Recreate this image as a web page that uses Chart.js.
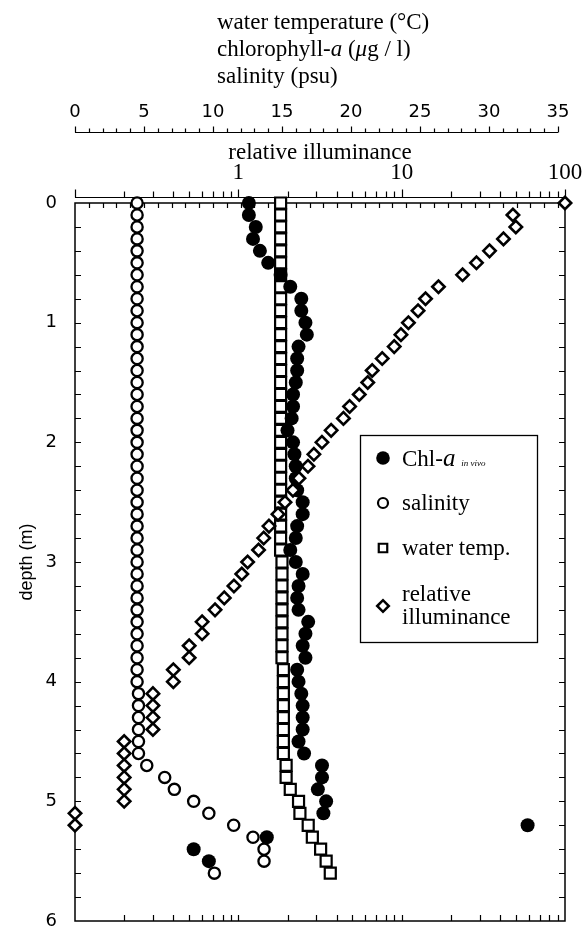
<!DOCTYPE html>
<html><head><meta charset="utf-8">
<script src="https://cdn.jsdelivr.net/npm/chart.js@4.4.0/dist/chart.umd.min.js"></script>
<style>html,body{margin:0;padding:0;background:#fff;overflow:hidden}#wrap{position:relative;width:582px;height:931px}</style>
</head><body><div id="wrap"><canvas id="c" width="582" height="931"></canvas></div>
<script>
// ---------- DATA ----------
const chlDepths = [0.0,0.1,0.2,0.3,0.4,0.5,0.6,0.7,0.8,0.9,1.0,1.1,1.2,1.3,1.4,1.5,1.6,1.7,1.8,1.9,2.0,2.1,2.2,2.3,2.4,2.5,2.6,2.7,2.8,2.9,3.0,3.1,3.2,3.3,3.4,3.5,3.6,3.7,3.8,3.9,4.0,4.1,4.2,4.3,4.4,4.5,4.6,4.7,4.8,4.9,5.0,5.1,5.2,5.3,5.4,5.5];
const chlValues = [12.6,12.6,13.1,12.9,13.4,14.0,14.9,15.6,16.4,16.4,16.7,16.8,16.2,16.1,16.1,16.0,15.8,15.8,15.7,15.4,15.8,15.9,16.0,16.0,16.1,16.5,16.5,16.1,16.0,15.6,16.0,16.5,16.2,16.1,16.2,16.9,16.7,16.5,16.7,16.1,16.2,16.4,16.5,16.5,16.5,16.2,16.6,17.9,17.9,17.6,18.2,18.0,32.8,13.9,8.6,9.7];

const salDepths = [0.0,0.1,0.2,0.3,0.4,0.5,0.6,0.7,0.8,0.9,1.0,1.1,1.2,1.3,1.4,1.5,1.6,1.7,1.8,1.9,2.0,2.1,2.2,2.3,2.4,2.5,2.6,2.7,2.8,2.9,3.0,3.1,3.2,3.3,3.4,3.5,3.6,3.7,3.8,3.9,4.0,4.1,4.2,4.3,4.4,4.5,4.6,4.7,4.8,4.9,5.0,5.1,5.2,5.3,5.4,5.5,5.6];
const salValues = [4.5,4.5,4.5,4.5,4.5,4.5,4.5,4.5,4.5,4.5,4.5,4.5,4.5,4.5,4.5,4.5,4.5,4.5,4.5,4.5,4.5,4.5,4.5,4.5,4.5,4.5,4.5,4.5,4.5,4.5,4.5,4.5,4.5,4.5,4.5,4.5,4.5,4.5,4.5,4.5,4.5,4.6,4.6,4.6,4.6,4.6,4.6,5.2,6.5,7.2,8.6,9.7,11.5,12.9,13.7,13.7,10.1];

const tempDepths = [0.0,0.1,0.2,0.3,0.4,0.5,0.6,0.7,0.8,0.9,1.0,1.1,1.2,1.3,1.4,1.5,1.6,1.7,1.8,1.9,2.0,2.1,2.2,2.3,2.4,2.5,2.6,2.7,2.8,2.9,3.0,3.1,3.2,3.3,3.4,3.5,3.6,3.7,3.8,3.9,4.0,4.1,4.2,4.3,4.4,4.5,4.6,4.7,4.8,4.9,5.0,5.1,5.2,5.3,5.4,5.5,5.6];
const tempValues = [14.9,14.9,14.9,14.9,14.9,14.9,14.9,14.9,14.9,14.9,14.9,14.9,14.9,14.9,14.9,14.9,14.9,14.9,14.9,14.9,14.9,14.9,14.9,14.9,14.9,14.9,14.9,14.9,14.9,14.9,15.0,15.0,15.0,15.0,15.0,15.0,15.0,15.0,15.0,15.1,15.1,15.1,15.1,15.1,15.1,15.1,15.1,15.3,15.3,15.6,16.2,16.3,16.9,17.2,17.8,18.2,18.5];

const illumDepths = [0.0,0.1,0.2,0.3,0.4,0.5,0.6,0.7,0.8,0.9,1.0,1.1,1.2,1.3,1.4,1.5,1.6,1.7,1.8,1.9,2.0,2.1,2.2,2.3,2.4,2.5,2.6,2.7,2.8,2.9,3.0,3.1,3.2,3.3,3.4,3.5,3.6,3.7,3.8,3.9,4.0,4.1,4.2,4.3,4.4,4.5,4.6,4.7,4.8,4.9,5.0,5.1,5.2];
const illumValues = [100,48,50,42,34.5,28.7,23.6,16.8,14.0,12.6,11.0,9.9,9.0,7.6,6.6,6.2,5.5,4.8,4.4,3.7,3.25,2.9,2.67,2.35,2.16,1.93,1.75,1.54,1.43,1.33,1.14,1.05,0.94,0.82,0.72,0.6,0.6,0.5,0.5,0.4,0.4,0.3,0.3,0.3,0.3,0.2,0.2,0.2,0.2,0.2,0.2,0.1,0.1];

const depthTicks = [0,1,2,3,4,5,6];
const linTickLabels = [0,5,10,15,20,25,30,35];
const logTickLabels = [1,10,100];

// ---------- STYLE ----------
const SERIF = '"Liberation Serif", "Times New Roman", serif';
const SANS = '"Liberation Sans", Arial, sans-serif';
const DIGITS = '"DejaVu Sans", "Liberation Sans", sans-serif';

function pts(xs, ys){ return ys.map((d,i)=>({x:xs[i], y:d})); }

const decor = {
  id:'decor',
  beforeDatasetsDraw(chart){
    const ctx = chart.ctx, a = chart.chartArea;
    const y = chart.scales.y, lin = chart.scales.xlin, lg = chart.scales.xlog;
    ctx.save();
    ctx.strokeStyle = '#000';
    ctx.lineWidth = 1.5;
    ctx.strokeRect(a.left, a.top, a.right - a.left, a.bottom - a.top);
    ctx.lineWidth = 1.2;
    ctx.beginPath();
    for (let k = 1; k < 30; k++) {
      const py = Math.round(y.getPixelForValue(k*0.2)) + 0.5;
      ctx.moveTo(a.left, py); ctx.lineTo(a.left + 6, py);
      ctx.moveTo(a.right, py); ctx.lineTo(a.right - 6, py);
    }
    for (let v = 1; v <= 35; v++) {
      const px = Math.round(lin.getPixelForValue(v)) + 0.5;
      ctx.moveTo(px, a.top); ctx.lineTo(px, a.top + 5);
    }
    const logVals = [];
    [0.1,1,10].forEach(dec => { for (let m = 1; m <= 9; m++) logVals.push(m*dec); });
    logVals.push(100);
    logVals.forEach(v => {
      const px = Math.round(lg.getPixelForValue(v)) + 0.5;
      if (px <= a.left + 1 || px >= a.right - 1) return;
      ctx.moveTo(px, a.bottom); ctx.lineTo(px, a.bottom - 6);
    });
    ctx.stroke();

    const ly = a.top - 5.5;
    ctx.beginPath();
    ctx.lineWidth = 1.2;
    ctx.moveTo(lg.getPixelForValue(0.1), ly); ctx.lineTo(lg.getPixelForValue(100), ly);
    logVals.forEach(v => {
      const px = Math.round(lg.getPixelForValue(v)) + 0.5;
      const major = Math.abs(Math.log10(v) - Math.round(Math.log10(v))) < 1e-9;
      ctx.moveTo(px, ly); ctx.lineTo(px, ly - (major ? 8 : 6));
    });
    ctx.stroke();

    const ry = lin.bottom - 5.5;
    ctx.beginPath();
    ctx.moveTo(lin.getPixelForValue(0), ry); ctx.lineTo(lin.getPixelForValue(35), ry);
    for (let v = 0; v <= 35; v++) {
      const px = Math.round(lin.getPixelForValue(v)) + 0.5;
      ctx.moveTo(px, ry); ctx.lineTo(px, ry - (v % 5 === 0 ? 6 : 4));
    }
    ctx.stroke();
    ctx.restore();
  },
  afterDraw(chart){
    const ctx = chart.ctx;
    ctx.save();
    ctx.fillStyle = '#000';
    ctx.textBaseline = 'alphabetic';
    ctx.textAlign = 'left';
    const N = '23px ' + SERIF, I = 'italic 23px ' + SERIF;
    function rich(x, yb, parts){
      let cx = x;
      parts.forEach(([t,f]) => { ctx.font = f; ctx.fillText(t, cx, yb); cx += ctx.measureText(t).width; });
    }
    rich(217, 29, [['water temperature (\u00B0C)', N]]);
    rich(217, 56, [['chlorophyll-', N], ['a', I], [' (', N], ['\u03BC', I], ['g / l)', N]]);
    rich(217, 83, [['salinity (psu)', N]]);

    ctx.strokeStyle = '#000';
    ctx.lineWidth = 1.3;
    ctx.strokeRect(360.5, 435.5, 177, 207);
    const ds = chart.data.datasets;
    const mk = (d, x, yy, r, bw) => {
      ctx.fillStyle = d.backgroundColor; ctx.strokeStyle = d.borderColor; ctx.lineWidth = bw;
      Chart.helpers.drawPoint(ctx, {pointStyle: d.pointStyle, radius: r, borderWidth: bw, rotation: 0}, x, yy);
    };
    mk(ds[0], 383, 458, 6.8, 0);
    mk(ds[1], 383, 503, 5, 2.2);
    mk(ds[2], 383, 548, 6, 2.2);
    mk(ds[3], 383, 606, 5.8, 2.5);
    ctx.fillStyle = '#000';
    rich(402, 466, [['Chl-', N], ['a', 'italic 25px ' + SERIF], [' ', N], ['in vivo', 'italic 9px ' + SERIF]]);
    rich(402, 510, [['salinity', N]]);
    rich(402, 555, [['water temp.', N]]);
    rich(402, 601, [['relative', N]]);
    rich(402, 624, [['illuminance', N]]);
    ctx.restore();
  }
};

new Chart(document.getElementById('c'), {
  type: 'scatter',
  data: {
    datasets: [
      { label: 'Chl-a in vivo', data: pts(chlValues, chlDepths), xAxisID: 'xlin', yAxisID: 'y',
        pointStyle: 'circle', pointRadius: 7, backgroundColor: '#000', borderColor: '#000', borderWidth: 0, order: 2, clip: false },
      { label: 'salinity', data: pts(salValues, salDepths), xAxisID: 'xlin', yAxisID: 'y',
        pointStyle: 'circle', pointRadius: 5.6, backgroundColor: '#fff', borderColor: '#000', borderWidth: 2.3, order: 0, clip: false },
      { label: 'water temp.', data: pts(tempValues, tempDepths), xAxisID: 'xlin', yAxisID: 'y',
        pointStyle: 'rect', pointRadius: 7.8, backgroundColor: '#fff', borderColor: '#000', borderWidth: 2.2, order: 3, clip: false },
      { label: 'relative illuminance', data: pts(illumValues, illumDepths), xAxisID: 'xlog', yAxisID: 'y',
        pointStyle: 'rectRot', pointRadius: 6.2, backgroundColor: '#fff', borderColor: '#000', borderWidth: 2.6, order: 1, clip: false }
    ]
  },
  options: {
    responsive: false, animation: false, devicePixelRatio: 1,
    layout: { padding: { top: 99, left: 0, right: 17, bottom: 8 } },
    plugins: { legend: { display: false }, tooltip: { enabled: false } },
    elements: { point: { hoverRadius: 0 } },
    scales: {
      y: {
        type: 'linear', position: 'left', reverse: true, min: 0, max: 6,
        afterBuildTicks: s => { s.ticks = depthTicks.map(v => ({value: v})); },
        ticks: { color: '#000', padding: 18, font: { family: DIGITS, size: 18 }, callback: v => String(v) },
        grid: { display: false, drawTicks: false }, border: { display: false },
        title: { display: true, text: 'depth (m)', color: '#000', font: { family: SANS, size: 18 }, padding: { top: 16, bottom: 0 } },
        afterFit: s => { s.width = 75; s.paddingTop = 0; s.paddingBottom = 0; }
      },
      xlog: {
        type: 'logarithmic', position: 'top', min: 0.1, max: 100, weight: 0,
        afterBuildTicks: s => { s.ticks = logTickLabels.map(v => ({value: v, major: true})); },
        ticks: { color: '#000', autoSkip: false, maxRotation: 0, padding: 19, font: { family: SERIF, size: 23, lineHeight: 1 },
                 callback: v => String(v) },
        grid: { display: false, drawTicks: false }, border: { display: false },
        title: { display: true, text: 'relative illuminance', color: '#000', font: { family: SERIF, size: 23, lineHeight: 1 }, padding: { top: 3, bottom: 0 } },
        afterFit: s => { s.height = 65; s.paddingLeft = 0; s.paddingRight = 0; }
      },
      xlin: {
        type: 'linear', position: 'top', min: 0, max: 35.51, weight: 1,
        afterBuildTicks: s => { s.ticks = linTickLabels.map(v => ({value: v})); },
        ticks: { color: '#000', autoSkip: false, maxRotation: 0, padding: 16.5, font: { family: DIGITS, size: 18, lineHeight: 1 },
                 callback: v => String(v) },
        grid: { display: false, drawTicks: false }, border: { display: false },
        afterFit: s => { s.height = 39; s.paddingLeft = 0; s.paddingRight = 0; }
      }
    }
  },
  plugins: [decor]
});
</script>
</body></html>
